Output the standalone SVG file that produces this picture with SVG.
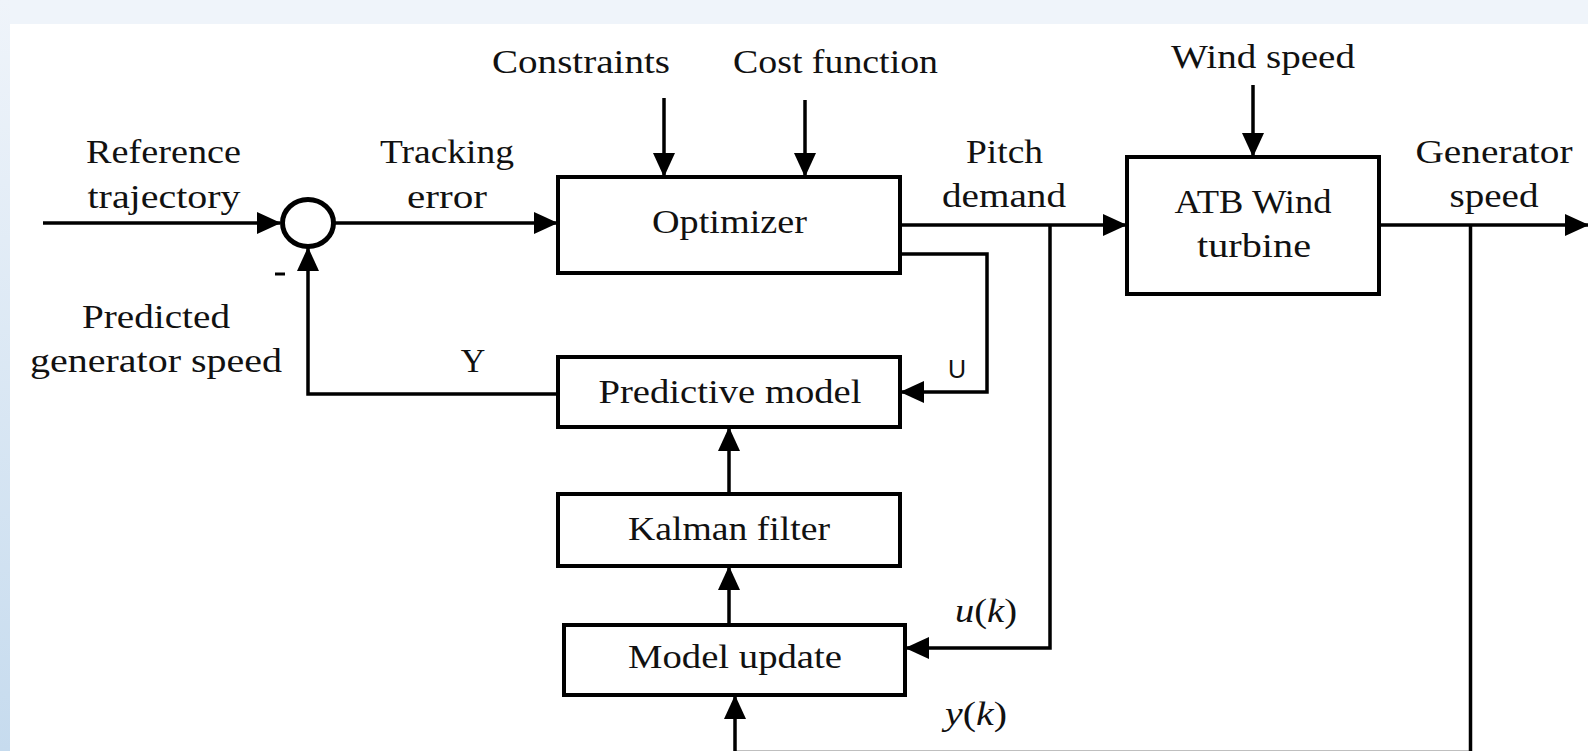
<svg xmlns="http://www.w3.org/2000/svg" width="1588" height="751" viewBox="0 0 1588 751">
<defs>
<linearGradient id="side" x1="0" y1="0" x2="0" y2="1">
<stop offset="0" stop-color="#eff4fa"/>
<stop offset="1" stop-color="#c6dbee"/>
</linearGradient>
<marker id="ah" viewBox="0 0 24 22" refX="23" refY="11" markerWidth="24" markerHeight="22" orient="auto" markerUnits="userSpaceOnUse">
<path d="M0,0 L24,11 L0,22 z" fill="#000"/>
</marker>
<style>
.box{fill:#fff;stroke:#000;stroke-width:4}
.ln{fill:none;stroke:#000;stroke-width:3.5}
.ar{fill:none;stroke:#000;stroke-width:3.5;marker-end:url(#ah)}
text{font-family:"Liberation Serif","Times New Roman",serif;font-size:34px;fill:#111;text-anchor:middle}
.sans{font-family:"Liberation Sans",Arial,sans-serif;font-size:25px}
.it{font-style:italic}
</style>
</defs>
<rect x="0" y="0" width="1588" height="751" fill="#fff"/>
<rect x="0" y="0" width="1588" height="24" fill="#eff4fa"/>
<rect x="0" y="0" width="10" height="751" fill="url(#side)"/>

<g id="connectors">
<path class="ar" d="M43,223 H280"/>
<path class="ar" d="M334,223 H557"/>
<path class="ar" d="M664,98 V176"/>
<path class="ar" d="M805,100 V176"/>
<path class="ar" d="M900,225 H1126"/>
<path class="ar" d="M1253,85 V156"/>
<path class="ar" d="M1379,225 H1588"/>
<path class="ar" d="M900,254 H987 V392 H901"/>
<path class="ar" d="M558,394 H308 V248"/>
<path class="ar" d="M729,494 V428"/>
<path class="ar" d="M729,625 V567"/>
<path class="ar" d="M1050,225 V648 H906"/>
<path class="ar" d="M1470.5,225 V752.5 H735 V696"/>
<path class="ln" d="M275,274 H285" style="stroke-width:3"/>
</g>

<g id="sum">
<ellipse cx="308" cy="223" rx="25.5" ry="23.5" fill="#fff" stroke="#000" stroke-width="5"/>
</g>

<g id="optimizer">
<rect class="box" x="558" y="177" width="342" height="96"/>
<text x="729.5" y="233" textLength="155" lengthAdjust="spacingAndGlyphs">Optimizer</text>
</g>
<g id="turbine">
<rect class="box" x="1127" y="157" width="252" height="137"/>
<text x="1253" y="213" textLength="157" lengthAdjust="spacingAndGlyphs">ATB Wind</text>
<text x="1254" y="257" textLength="114" lengthAdjust="spacingAndGlyphs">turbine</text>
</g>
<g id="predictive">
<rect class="box" x="558" y="357" width="342" height="70"/>
<text x="730" y="403" textLength="263" lengthAdjust="spacingAndGlyphs">Predictive model</text>
</g>
<g id="kalman">
<rect class="box" x="558" y="494" width="342" height="72"/>
<text x="729" y="540" textLength="202" lengthAdjust="spacingAndGlyphs">Kalman filter</text>
</g>
<g id="modelupdate">
<rect class="box" x="564" y="625" width="341" height="70"/>
<text x="735" y="668" textLength="214" lengthAdjust="spacingAndGlyphs">Model update</text>
</g>

<g id="labels">
<text x="163.5" y="163" textLength="155" lengthAdjust="spacingAndGlyphs">Reference</text>
<text x="164" y="208" textLength="153" lengthAdjust="spacingAndGlyphs">trajectory</text>
<text x="447" y="163" textLength="134" lengthAdjust="spacingAndGlyphs">Tracking</text>
<text x="447" y="208" textLength="80" lengthAdjust="spacingAndGlyphs">error</text>
<text x="581" y="73" textLength="178" lengthAdjust="spacingAndGlyphs">Constraints</text>
<text x="835.5" y="73" textLength="205" lengthAdjust="spacingAndGlyphs">Cost function</text>
<text x="1004.5" y="163" textLength="77" lengthAdjust="spacingAndGlyphs">Pitch</text>
<text x="1004" y="207" textLength="124" lengthAdjust="spacingAndGlyphs">demand</text>
<text x="1263" y="68" textLength="184" lengthAdjust="spacingAndGlyphs">Wind speed</text>
<text x="1494" y="163" textLength="157" lengthAdjust="spacingAndGlyphs">Generator</text>
<text x="1494" y="207" textLength="89" lengthAdjust="spacingAndGlyphs">speed</text>
<text x="156" y="328" textLength="148" lengthAdjust="spacingAndGlyphs">Predicted</text>
<text x="156" y="372" textLength="252" lengthAdjust="spacingAndGlyphs">generator speed</text>
<text x="473" y="372">Y</text>
<text class="sans" x="957" y="378">U</text>
<text x="986" y="622" textLength="62" lengthAdjust="spacingAndGlyphs"><tspan class="it">u</tspan>(<tspan class="it">k</tspan>)</text>
<text x="976" y="725" textLength="62" lengthAdjust="spacingAndGlyphs"><tspan class="it">y</tspan>(<tspan class="it">k</tspan>)</text>
</g>
</svg>
